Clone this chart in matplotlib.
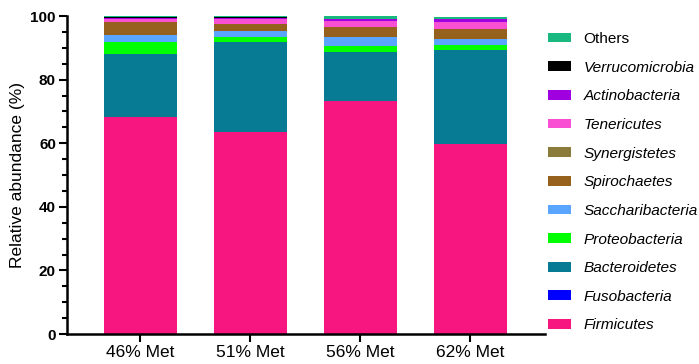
import matplotlib.pyplot as plt
import numpy as np
from matplotlib.patches import Patch
from matplotlib.ticker import MultipleLocator

plt.rcParams['font.family'] = ['Liberation Sans', 'DejaVu Sans']

groups = ['46% Met', '51% Met', '56% Met', '62% Met']

# relative abundance (%) of each phylum, bottom to top
phyla = ['Firmicutes', 'Fusobacteria', 'Bacteroidetes', 'Proteobacteria',
         'Saccharibacteria', 'Spirochaetes', 'Synergistetes', 'Tenericutes',
         'Actinobacteria', 'Verrucomicrobia', 'Others']
firmicutes = [68.1, 63.4, 73.4, 59.7]
fusobacteria = [0.02, 0.02, 0.02, 0.02]
bacteroidetes = [19.9, 28.3, 15.2, 29.5]
proteobacteria = [3.7, 1.8, 2.1, 1.7]
saccharibacteria = [2.3, 1.8, 2.6, 1.7]
spirochaetes = [4.0, 2.2, 3.1, 3.2]
synergistetes = [0.05, 0.05, 0.05, 0.05]
tenericutes = [1.1, 1.6, 2.1, 2.2]
actinobacteria = [0.2, 0.2, 0.6, 0.9]
verrucomicrobia = [0.2, 0.3, 0.02, 0.05]
others = [0.4, 0.3, 0.8, 0.7]

values = [firmicutes, fusobacteria, bacteroidetes, proteobacteria,
          saccharibacteria, spirochaetes, synergistetes, tenericutes,
          actinobacteria, verrucomicrobia, others]
colors = ['#F7167F', '#0000FF', '#077B93', '#00FF00', '#5AA5FF', '#95611D',
          '#8B7B3A', '#F84FD3', '#A000E0', '#000000', '#19B87E']

fig = plt.figure(figsize=(6.99, 3.64), dpi=100)
ax = fig.add_axes([67 / 699, 30 / 364, 478 / 699, 318 / 364])

x = np.arange(len(groups))
bottom = np.zeros(len(groups))
for name, vals, col in zip(phyla, values, colors):
    ax.bar(x, vals, width=0.66, bottom=bottom, color=col, label=name)
    bottom += np.array(vals)

ax.set_xlim(-0.668, 3.68)
ax.set_ylim(0, 100)
ax.set_xticks(x)
ax.set_xticklabels(groups, fontsize=12.5)
ax.set_yticks([0, 20, 40, 60, 80, 100])
ax.yaxis.set_minor_locator(MultipleLocator(5))
for lab in ax.get_yticklabels():
    lab.set_fontweight('bold')
    lab.set_fontsize(11)
ax.tick_params(axis='both', which='major', length=6, width=1.5, direction='out')
ax.tick_params(axis='y', which='minor', length=3.5, width=1.5)
ax.tick_params(axis='x', pad=2)
ax.tick_params(axis='y', pad=2)

ax.set_ylabel('Relative abundance (%)', fontsize=12.5, labelpad=4)
for side in ['top', 'right']:
    ax.spines[side].set_visible(False)
for side in ['left', 'bottom']:
    ax.spines[side].set_linewidth(1.8)

handles = [Patch(facecolor=c) for c in colors[::-1]]
leg = fig.legend(handles, phyla[::-1], loc='upper left',
                 bbox_to_anchor=(548 / 699, 1 - 32 / 364), frameon=False,
                 fontsize=11.1, handlelength=1.5, handleheight=0.6,
                 handletextpad=0.8, labelspacing=0.95, borderpad=0,
                 borderaxespad=0)
for t in leg.get_texts():
    if t.get_text() != 'Others':
        t.set_fontstyle('italic')

fig.savefig('out.png', dpi=100)
